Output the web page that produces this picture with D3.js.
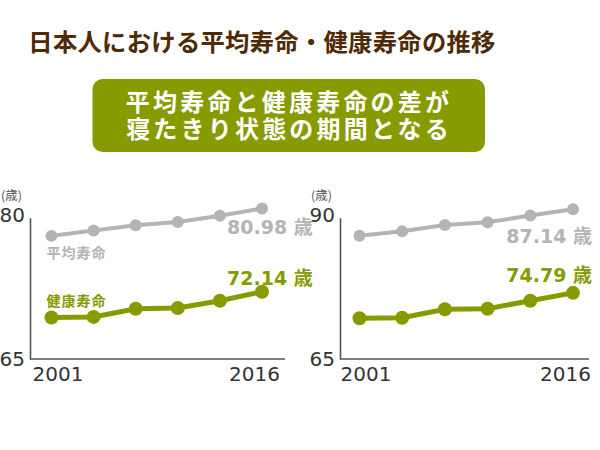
<!DOCTYPE html>
<html><head><meta charset="utf-8">
<script src="https://cdn.jsdelivr.net/npm/d3@7/dist/d3.min.js"></script>
<style>body{margin:0;background:#fff}svg{display:block}</style>
</head><body>
<svg id="c" width="600" height="450"></svg>
<script>
// ---- data ----
const title = "日本人における平均寿命・健康寿命の推移";
const bannerLines = ["平均寿命と健康寿命の差が", "寝たきり状態の期間となる"];
const years = [2001, 2004, 2007, 2010, 2013, 2016];
const xTickLabels = ["2001", "2016"];
const seriesNames = ["平均寿命", "健康寿命"];
const unitLabel = "(歳)";
// left panel
const leftTicks = [65, 80];
const leftAvg = [78.07, 78.64, 79.19, 79.55, 80.21, 80.98];
const leftHealthy = [69.40, 69.47, 70.33, 70.42, 71.19, 72.14];
const leftEndLabels = ["80.98", "72.14"];
// right panel (values as drawn in the picture)
const rightTicks = [65, 90];
const rightAvg = [86.8, 87.6, 88.7, 89.2, 90.4, 91.5];
const rightHealthy = [72.2, 72.3, 73.8, 73.9, 75.3, 76.7];
const rightEndLabels = ["87.14", "74.79"];
const unitSuffix = "歳";

const svg = d3.select("#c");
const GRAY = "#b4b4b4", GREEN = "#879a00", BROWN = "#4e2a06";
const JP = "'Noto Sans CJK JP','Noto Sans',sans-serif";
const NUM = "'DejaVu Sans',Verdana,sans-serif";

// title
svg.append("text").attr("x", 262).attr("y", 51).attr("text-anchor", "middle")
  .attr("font-family", JP).attr("font-weight", "bold").attr("font-size", 24.3)
  .attr("letter-spacing", 0.3).attr("fill", BROWN).text(title);

// banner
svg.append("rect").attr("x", 92.5).attr("y", 79).attr("width", 392.5).attr("height", 73)
  .attr("rx", 10).attr("fill", GREEN);
const bt = svg.append("text").attr("text-anchor", "middle")
  .attr("font-family", JP).attr("font-weight", "bold").attr("font-size", 24)
  .attr("letter-spacing", 3.2).attr("fill", "#fff");
bannerLines.forEach((t, i) => {
  bt.append("tspan").attr("x", 289).attr("y", 110.5 + i * 27.5).text(t);
});

function panel(cfg) {
  const g = svg.append("g");
  const x = d3.scaleLinear().domain([years[0], years[years.length - 1]]).range([cfg.x0, cfg.x1]);
  const y = d3.scaleLinear().domain(cfg.ticks).range([359, 217.7]);
  const yAxis = d3.axisLeft(y).tickValues(cfg.ticks).tickSize(0).tickFormat(d3.format("d"));
  const ya = g.append("g").attr("transform", `translate(${cfg.ax},0)`).call(yAxis);
  ya.select(".domain").attr("stroke", "#555").attr("stroke-width", 1.6);
  ya.selectAll("text").attr("font-family", NUM).attr("font-size", 20).attr("fill", "#333")
    .attr("x", -5).attr("dy", (d, i) => i === 0 ? "0.33em" : "0.2em");
  g.append("line").attr("x1", cfg.ax).attr("x2", cfg.axEnd).attr("y1", 359).attr("y2", 359)
    .attr("stroke", "#555").attr("stroke-width", 1.6);
  g.selectAll(".xl").data(xTickLabels).join("text")
    .attr("x", (d, i) => x(+d) + (i === 0 ? -19 : 18))
    .attr("y", 380.5).attr("text-anchor", (d, i) => i === 0 ? "start" : "end")
    .attr("font-family", NUM).attr("font-size", 20).attr("fill", "#333").text(d => d);
  g.append("text").attr("x", cfg.ax - 29).attr("y", 200).attr("font-family", JP)
    .attr("font-size", 12.5).attr("fill", "#555").text(unitLabel);

  const line = d3.line().x((d, i) => x(years[i])).y(d => y(d));
  [[cfg.avg, GRAY, 4, 6], [cfg.healthy, GREEN, 5, 7]].forEach(([vals, col, w, r]) => {
    g.append("path").datum(vals).attr("d", line).attr("fill", "none")
      .attr("stroke", col).attr("stroke-width", w);
    g.selectAll(null).data(vals).join("circle")
      .attr("cx", (d, i) => x(years[i])).attr("cy", d => y(d)).attr("r", r).attr("fill", col);
  });

  [[cfg.endLabels[0], GRAY, cfg.lblY[0]], [cfg.endLabels[1], GREEN, cfg.lblY[1]]].forEach(([t, col, yy]) => {
    const tx = g.append("text").attr("y", yy).attr("fill", col).attr("font-weight", "bold")
      .attr("text-anchor", cfg.lblAnchor).attr("x", x(years[years.length - 1]) + cfg.lblDx);
    tx.append("tspan").attr("font-family", NUM).attr("font-size", 19).text(t + " ");
    tx.append("tspan").attr("font-family", JP).attr("font-size", 19).text(unitSuffix);
  });

  if (cfg.names) {
    [[seriesNames[0], GRAY, 258], [seriesNames[1], GREEN, 306]].forEach(([t, col, yy]) => {
      g.append("text").attr("x", x(years[0]) - 5).attr("y", yy).attr("fill", col)
        .attr("font-family", JP).attr("font-weight", "bold").attr("font-size", 14)
        .attr("letter-spacing", 1).text(t);
    });
  }
}

panel({ ax: 30, axEnd: 285, x0: 51.5, x1: 262, ticks: leftTicks, avg: leftAvg, healthy: leftHealthy,
  endLabels: leftEndLabels, lblY: [234, 284.5], lblAnchor: "start", lblDx: -35, names: true });
panel({ ax: 340, axEnd: 589, x0: 359.5, x1: 573, ticks: rightTicks, avg: rightAvg, healthy: rightHealthy,
  endLabels: rightEndLabels, lblY: [242.5, 282], lblAnchor: "end", lblDx: 19, names: false });
</script>
</body></html>
